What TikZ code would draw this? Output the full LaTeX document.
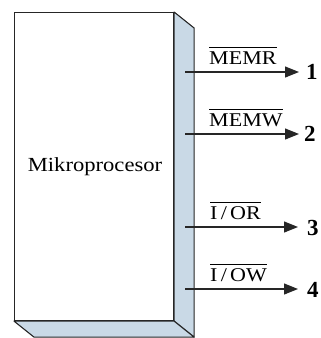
\documentclass[tikz,border=0pt]{standalone}
\usepackage{fontspec}
\setmainfont{Liberation Serif}
\newfontfamily\widefont[FakeStretch=1.13]{Liberation Serif}
\usetikzlibrary{arrows.meta,calc}
\usepackage{calc}
\definecolor{sidec}{HTML}{C9D9E6}
\newcommand{\ovl}[1]{\widefont\fontsize{19.5}{23}\selectfont\rlap{\rule[16.5pt]{\widthof{#1}}{0.7pt}}#1}
\tikzset{
  face/.style={draw=black!85, line width=1.1pt, fill=sidec, line join=round},
  sig/.style={draw=black!85, line width=1.2pt, -{Triangle[length=14pt,width=11pt]}},
  siglabel/.style={anchor=base west, inner sep=0pt},
  num/.style={anchor=west, inner sep=0pt, font=\fontsize{23}{27}\selectfont\bfseries}
}
\begin{document}
\begin{tikzpicture}[x=1pt,y=-1pt]
\useasboundingbox (0,0) rectangle (321,338);
% 3D block
\node[draw=black!85, line width=1.1pt, fill=white, minimum width=159pt, minimum height=308pt, anchor=north west, inner sep=0pt] (cpu) at (14,12) {};
\draw[face] (cpu.north east) -- ++(20,16) -- ($(cpu.south east)+(20,16)$) -- (cpu.south east) -- cycle;
\draw[face] (cpu.south west) -- (cpu.south east) -- ++(20,16) -- ($(cpu.south west)+(20,16)$) -- cycle;
\node[font=\widefont\fontsize{20}{24}\selectfont] (name) at (95,167) {Mikroprocesor};
% signal start points
\coordinate (s1) at (185,72);
\coordinate (s2) at (185,134);
\coordinate (s3) at (185,227);
\coordinate (s4) at (185,289);
\coordinate (e1) at (299,72);
\coordinate (e2) at (299,134);
\coordinate (e3) at (298,227);
\coordinate (e4) at (298,289);
\draw[sig] (s1) -- (e1);
\draw[sig] (s2) -- (e2);
\draw[sig] (s3) -- (e3);
\draw[sig] (s4) -- (e4);
\node[siglabel] (l1) at (209,64) {\ovl{MEMR}};
\node[siglabel] (l2) at (209,126) {\ovl{MEMW}};
\node[siglabel] (l3) at (210,219) {\ovl{I\,/\,OR}};
\node[siglabel] (l4) at (210,281) {\ovl{I\,/\,OW}};
\node[num] (n1) at (306,72) {1};
\node[num] (n2) at (304,134) {2};
\node[num] (n3) at (307,228) {3};
\node[num] (n4) at (307,290) {4};
\end{tikzpicture}
\end{document}
